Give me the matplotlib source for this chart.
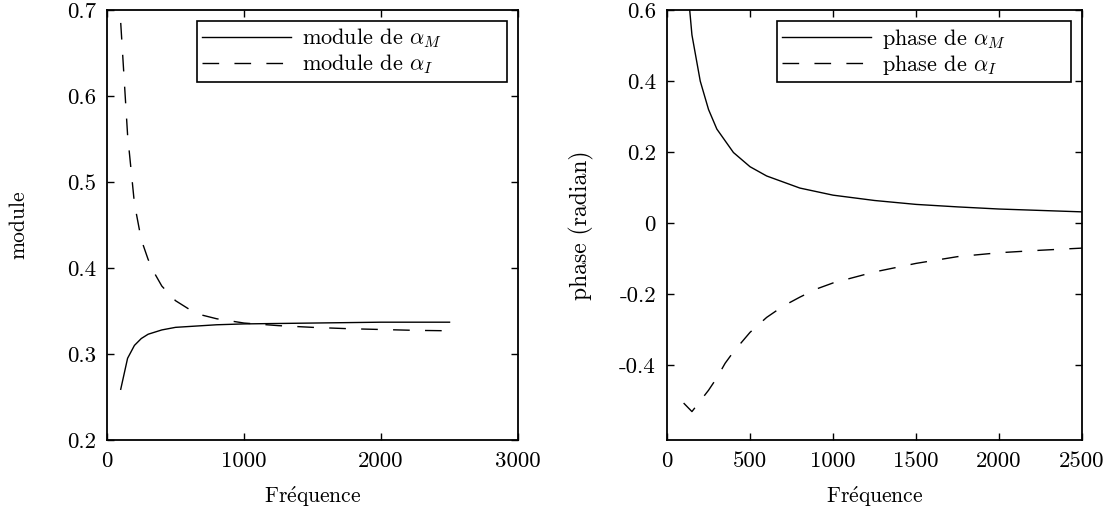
import matplotlib
matplotlib.use('Agg')
import matplotlib.pyplot as plt

plt.rcParams['font.family'] = ['cmr10', 'DejaVu Serif']
plt.rcParams['mathtext.fontset'] = 'cm'
plt.rcParams['font.size'] = 15.5
plt.rcParams['axes.unicode_minus'] = False

# module
freq_mod_M = [100, 150, 200, 250, 300, 400, 500, 600, 800, 1000, 1500, 2000, 2500]
mod_M = [0.259, 0.295, 0.310, 0.318, 0.323, 0.328, 0.331, 0.332, 0.334, 0.335, 0.336, 0.337, 0.337]
freq_mod_I = [100, 150, 200, 250, 300, 350, 400, 500, 600, 700, 800, 1000, 1250, 1500, 1750, 2000, 2250, 2500]
mod_I = [0.685, 0.555, 0.475, 0.433, 0.41, 0.393, 0.379, 0.362, 0.352, 0.345, 0.341, 0.336, 0.333, 0.331,
         0.3295, 0.3285, 0.3275, 0.327]

# phase
freq_ph_M = [100, 150, 200, 250, 300, 400, 500, 600, 800, 1000, 1250, 1500, 1750, 2000, 2250, 2500]
ph_M = [0.79, 0.53, 0.40, 0.32, 0.265, 0.199, 0.159, 0.133, 0.099, 0.079, 0.064, 0.053, 0.046, 0.040, 0.036, 0.032]
freq_ph_I = [100, 150, 200, 250, 300, 350, 400, 500, 600, 700, 800, 900, 1000, 1250, 1500, 1750, 2000, 2250, 2500]
ph_I = [-0.506, -0.530, -0.50, -0.47, -0.435, -0.394, -0.362, -0.307, -0.265, -0.233, -0.208, -0.185, -0.168,
        -0.137, -0.113, -0.094, -0.083, -0.076, -0.070]

xlab = r'Fr$\mathrm{\acute{e}}$quence'
pad_txt = '         '  # matlab leaves room on the right of legend text

fig = plt.figure(figsize=(11.16, 5.19), dpi=100)
ax1 = fig.add_axes([0.0959, 0.1522, 0.3683, 0.8285])
ax2 = fig.add_axes([0.5977, 0.1522, 0.3719, 0.8285])

dash = (12, 11)

ax1.plot(freq_mod_M, mod_M, color='black', lw=1, label=r'module de $\alpha_M$' + pad_txt)
ax1.plot(freq_mod_I, mod_I, color='black', lw=1, dashes=dash, label=r'module de $\alpha_I$' + pad_txt)
ax1.set_xlim(0, 3000)
ax1.set_ylim(0.2, 0.7)
ax1.set_xticks([0, 1000, 2000, 3000])
ax1.set_xticklabels(['0', '1000', '2000', '3000'])
ax1.set_yticks([0.2, 0.3, 0.4, 0.5, 0.6, 0.7])
ax1.set_yticklabels(['0.2', '0.3', '0.4', '0.5', '0.6', '0.7'])
ax1.set_xlabel(xlab, labelpad=10)
ax1.set_ylabel('module', labelpad=28)

ax2.plot(freq_ph_M, ph_M, color='black', lw=1, label=r'phase de $\alpha_M$' + pad_txt)
ax2.plot(freq_ph_I, ph_I, color='black', lw=1, dashes=dash, label=r'phase de $\alpha_I$' + pad_txt)
ax2.set_xlim(0, 2500)
ax2.set_ylim(-0.61, 0.6)
ax2.set_xticks([0, 500, 1000, 1500, 2000, 2500])
ax2.set_xticklabels(['0', '500', '1000', '1500', '2000', '2500'])
ax2.set_yticks([-0.4, -0.2, 0, 0.2, 0.4, 0.6])
ax2.set_yticklabels(['-0.4', '-0.2', '0', '0.2', '0.4', '0.6'])
ax2.set_xlabel(xlab, labelpad=10)
ax2.set_ylabel('phase (radian)', labelpad=18, fontsize=17)

for ax in (ax1, ax2):
    for s in ax.spines.values():
        s.set_linewidth(1.3)
    ax.tick_params(direction='in', top=True, right=True, length=5, width=1, pad=8, labelsize=16.5)
    leg = ax.legend(loc='upper right', handlelength=4.0, fancybox=False, framealpha=1, fontsize=16,
                    borderaxespad=0.5, labelspacing=0.1, handletextpad=0.5, borderpad=0.25)
    leg.get_frame().set_edgecolor('black')
    leg.get_frame().set_linewidth(1.2)

fig.savefig('out.png', dpi=100)
